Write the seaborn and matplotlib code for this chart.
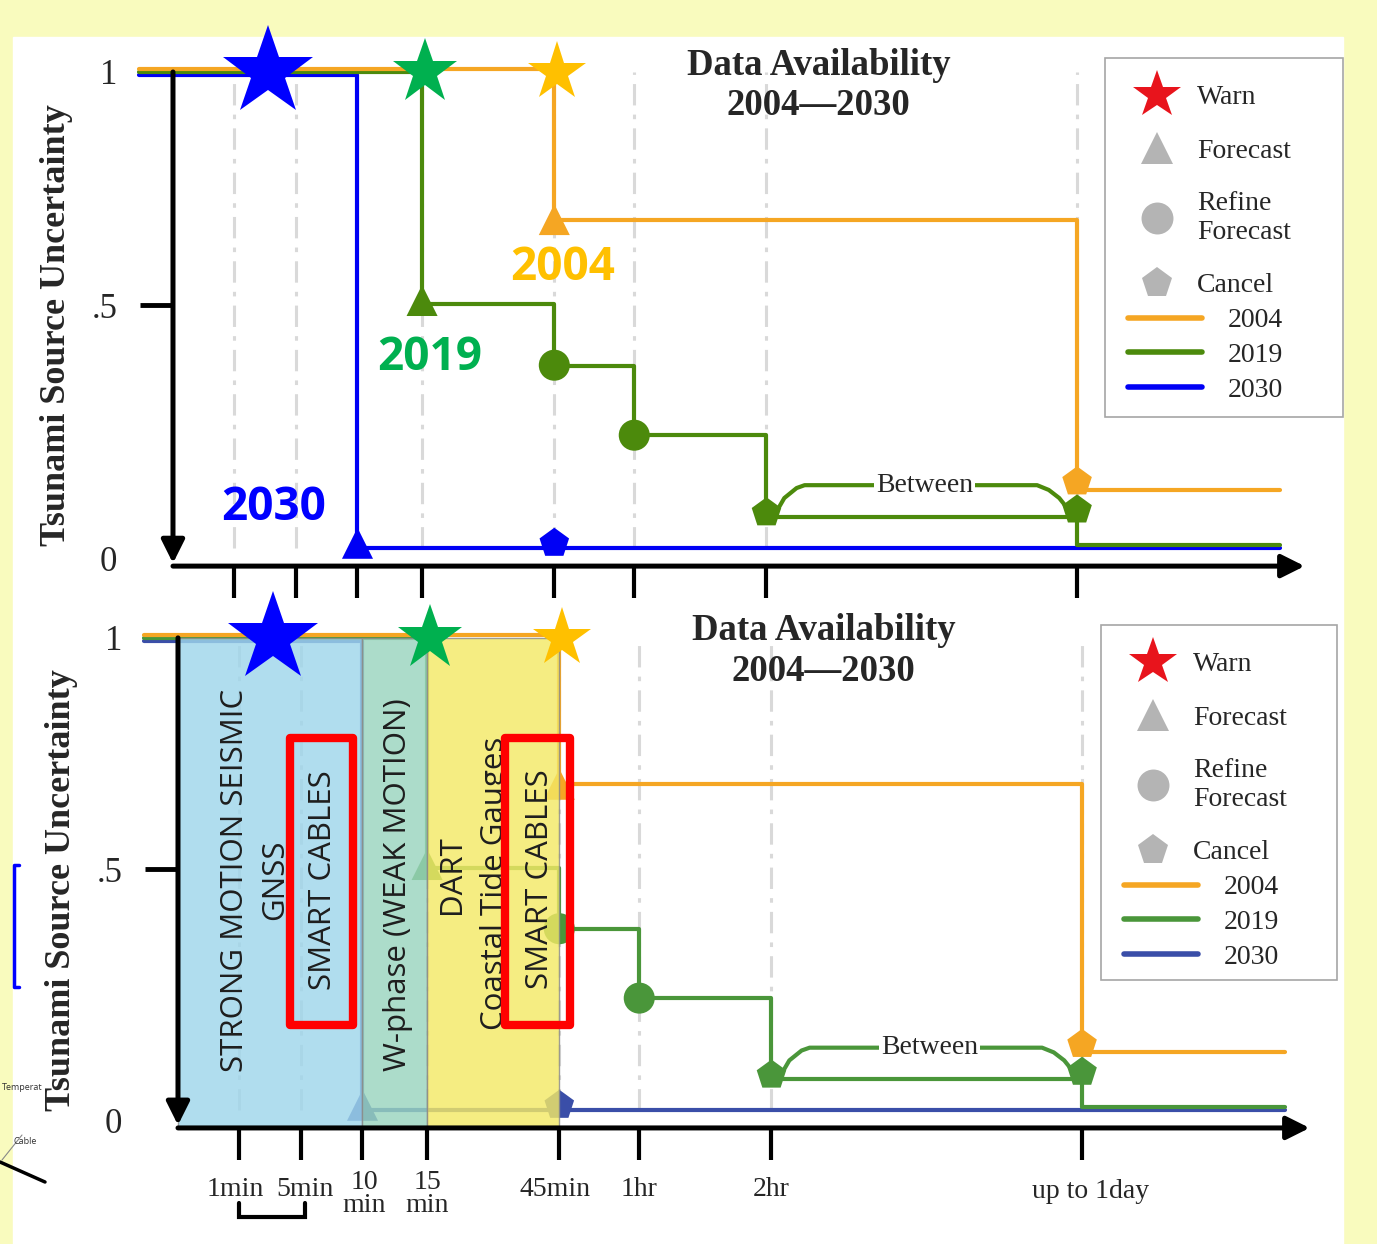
import matplotlib
matplotlib.use("Agg")
import matplotlib.pyplot as plt
import matplotlib.transforms as mtrans
from matplotlib.lines import Line2D
from matplotlib.patches import Rectangle
import seaborn as sns
import pandas as pd
import numpy as np

W, H = 1377, 1244

# x axis stops (the drawn axis is not to scale)
time_labels = ["1min", "5min", "10min", "15min", "45min", "1hr", "2hr", "1day"]
tick_text = ["1min", "5min", "10\nmin", "15\nmin", "45min", "1hr", "2hr", "up to 1day"]
slot = [1.0, 2.0, 3.0, 4.05, 6.2, 7.5, 9.65, 14.7]

years = ["2004", "2019", "2030"]

# uncertainty steps: level that starts at each time
steps_2004_t = ["start", "45min", "1day", "end"]
steps_2004_v = [1.006, 0.69, 0.122, 0.122]
steps_2019_t = ["start", "15min", "45min", "1hr", "2hr", "1day", "end"]
steps_2019_v = [1.0, 0.512, 0.383, 0.237, 0.066, 0.006, 0.006]
steps_2030_t = ["start", "10min", "end"]
steps_2030_v = [0.994, 0.0, 0.0]

# warning / forecast / cancel events
event_year = ["2004", "2004", "2019", "2019", "2019", "2019", "2019", "2030", "2030"]
event_kind = ["Forecast", "Cancel", "Forecast", "Refine", "Refine", "Cancel", "Cancel", "Forecast", "Cancel"]
event_time = ["45min", "1day", "15min", "45min", "1hr", "2hr", "1day", "10min", "45min"]
event_value = [0.69, 0.139, 0.52, 0.384, 0.237, 0.074, 0.08, 0.01, 0.01]

warn_year = ["2030", "2019", "2004"]
warn_from = ["1min", "15min", "45min"]
warn_to = ["5min", "15min", "45min"]
warn_value = [1.0, 1.0, 1.0]

# sensor windows in the lower panel
band_from = ["axis", "10min", "15min"]
band_to = ["10min", "15min", "45min"]

pos = dict(zip(time_labels, slot))
pos["start"] = -0.55
pos["end"] = 18.0
pos["axis"] = 0.0

sns.set_style("white")
plt.rcParams["font.family"] = ["Liberation Serif", "DejaVu Sans"]

fig = plt.figure(figsize=(W / 100, H / 100), dpi=100)
fig.patch.set_facecolor("#F9FBBE")
fig.patches.append(Rectangle((13 / W, 0), (1343 - 13) / W, (1244 - 37) / H,
                             transform=fig.transFigure, color="white", zorder=-5))


def px_axes(left, top, right, bottom):
    return [left / W, 1 - bottom / H, (right - left) / W, (bottom - top) / H]


def fx(px):
    return px / W


def fy(py):
    return 1 - py / H


steps = pd.concat([
    pd.DataFrame({"year": y, "x": [pos[t] for t in tt], "value": vv})
    for y, tt, vv in [("2004", steps_2004_t, steps_2004_v),
                      ("2019", steps_2019_t, steps_2019_v),
                      ("2030", steps_2030_t, steps_2030_v)]
], ignore_index=True)

events = pd.DataFrame({"year": event_year, "kind": event_kind,
                       "x": [pos[t] for t in event_time], "value": event_value})

AX_Y = -0.038


def add_legend(ax, palette, bx, by, bw, bh):
    ax.add_artist(Rectangle((fx(bx), fy(by + bh)), bw / W, bh / H, transform=fig.transFigure,
                            fc="white", ec="#A6A6A6", lw=1.2, zorder=8.5, clip_on=False))
    mk = [
        Line2D([], [], marker="*", color="#E8141C", ls="none", ms=36, mew=0),
        Line2D([], [], marker="^", color="#B4B4B4", ls="none", ms=23, mew=0),
        Line2D([], [], marker="o", color="#B4B4B4", ls="none", ms=23, mew=0),
        Line2D([], [], marker="p", color="#B4B4B4", ls="none", ms=23, mew=0),
    ]
    common = dict(loc="upper left", bbox_transform=fig.transFigure, fontsize=20,
                  frameon=False, borderpad=0, borderaxespad=0)
    leg1 = ax.legend(mk, ["Warn", "Forecast", "Refine\nForecast", "Cancel"],
                     bbox_to_anchor=(fx(bx + 26), fy(by + 27)),
                     handlelength=1.87, handletextpad=0.5, labelspacing=1.0, **common)
    leg1.set_zorder(9)
    ax.add_artist(leg1)
    ln = [Line2D([], [], color=palette[y], lw=4) for y in years]
    leg2 = ax.legend(ln, years, bbox_to_anchor=(fx(bx + 23), fy(by + 250)),
                     handlelength=2.66, handletextpad=0.94, labelspacing=0.33, **common)
    leg2.set_zorder(9)


def draw_panel(ax, palette, lower, box):
    ax.set_xlim(-0.699, 18.65)
    ax.patch.set_alpha(0)

    # dash-dot guides
    ax.vlines(slot, 0, 1.0, colors="#D9D9D9", lw=2.2,
              linestyles=[(0, (7, 3, 1.5, 3))], zorder=1)

    sns.lineplot(data=steps, x="x", y="value", hue="year", hue_order=years[::-1],
                 palette=palette, estimator=None, sort=False, drawstyle="steps-post",
                 lw=3, legend=False, ax=ax, zorder=3)

    # "Between" bracket
    a, b = pos["2hr"], pos["1day"]
    bx = [a + 0.16, a + 0.29, a + 0.49, a + 0.62, b - 0.65, b - 0.46, b - 0.29, b - 0.16]
    by = [0.076, 0.105, 0.126, 0.132, 0.132, 0.122, 0.105, 0.084]
    ax.plot(bx, by, color=palette["2019"], lw=3, zorder=3, solid_capstyle="round")
    ax.text((a + b) / 2 + 0.05, 0.132, "Between", ha="center", va="center", fontsize=20,
            bbox=dict(fc="white", ec="none", pad=1.5), zorder=3.5)

    sns.scatterplot(data=events, x="x", y="value", hue="year", style="kind",
                    markers={"Forecast": "^", "Refine": "o", "Cancel": "p"},
                    palette=palette, s=500, linewidth=0, legend=False, ax=ax, zorder=4)

    if lower:
        band_colors = ["#9FD6EB", "#9AD5BF", "#F3E966"]
        for f, t, c in zip(band_from, band_to, band_colors):
            ax.add_patch(Rectangle((pos[f], AX_Y), pos[t] - pos[f], 1.0 - AX_Y,
                                   fc=c, ec="#8A8A8A", lw=1, alpha=0.82, zorder=5))
        txt = dict(rotation=90, ha="center", va="center", fontsize=22.5,
                   family="Open Sans", color="#1E1E1E", zorder=6)
        ax.text(0.93, 0.487, "STRONG MOTION SEISMIC", **txt)
        ax.text(1.58, 0.487, "GNSS", **txt)
        ax.text(2.36, 0.487, "SMART CABLES", **txt)
        ax.text(3.58, 0.477, "W-phase (WEAK MOTION)", **txt)
        ax.text(4.45, 0.498, "DART", **txt)
        ax.text(5.15, 0.481, "Coastal Tide Gauges", **txt)
        ax.text(5.89, 0.490, "SMART CABLES", **txt)
        for x0, w in [(1.82, 1.03), (5.32, 1.05)]:
            ax.add_patch(Rectangle((x0, 0.18), w, 0.608, fill=False, ec="#FF0000",
                                   lw=6, joinstyle="round", zorder=6.5))
    else:
        yr = dict(ha="center", va="center", fontsize=33, fontweight="bold",
                  family="Open Sans", zorder=6)
        ax.text(6.34, 0.59, "2004", color="#FFC000", **yr)
        ax.text(4.18, 0.40, "2019", color="#00B050", **yr)
        ax.text(1.64, 0.085, "2030", color="#0000FF", **yr)

    # warning stars
    star_colors = {"2030": "#0000FF", "2019": "#00B04F", "2004": "#FFC000"}
    star_sizes = {"2030": 68, "2019": 49, "2004": 44}
    for y, f, t, v in zip(warn_year, warn_from, warn_to, warn_value):
        ax.plot((pos[f] + pos[t]) / 2 + 0.05, v, marker="*", ms=star_sizes[y],
                color=star_colors[y], mew=0, ls="none", zorder=7, clip_on=False)

    # axes with arrows
    arrow = dict(arrowstyle="-|>,head_length=0.7,head_width=0.35", lw=3.6, color="black",
                 shrinkA=0, shrinkB=0, mutation_scale=20)
    ax.annotate("", xy=(0, -0.032), xytext=(0, 1.0), arrowprops=arrow, zorder=8)
    ax.annotate("", xy=(18.4, AX_Y), xytext=(0, AX_Y), arrowprops=arrow, zorder=8)

    for s in ax.spines.values():
        s.set_visible(False)
    ax.spines["bottom"].set_position(("data", AX_Y))
    ax.spines["left"].set_position(("data", 0))

    ax.set_xticks(slot)
    ax.tick_params(axis="x", direction="out", length=23, width=3, color="black",
                   bottom=True, labelsize=20, pad=21)
    if lower:
        ax.set_xticklabels(tick_text)
        shifts = [(-4, 0), (4, 0), (2, -5), (0, -5), (-4, 0), (0, 0), (0, 0), (8, -2)]
        for lbl, (dx, dy) in zip(ax.get_xticklabels(), shifts):
            lbl.set_va("center")
            lbl.set_linespacing(0.9)
            lbl.set_transform(lbl.get_transform() +
                              mtrans.ScaledTranslation(dx / 100, dy / 100, fig.dpi_scale_trans))
    else:
        ax.set_xticklabels([""] * len(slot))

    ax.set_yticks([-0.022, 0.51, 1.0])
    ax.set_yticklabels(["0", ".5", "1"])
    ax.tick_params(axis="y", direction="out", length=24, width=3.5, color="black",
                   left=True, labelsize=25, pad=16)
    for i in (0, 2):
        ax.yaxis.get_major_ticks()[i].tick1line.set_visible(False)

    ax.set_xlabel("")
    ax.set_ylabel("Tsunami Source Uncertainty", fontsize=26, fontweight="bold")
    ax.yaxis.set_label_coords(-0.048, 0.474)

    ax.text(10.5, 0.972, "Data Availability\n2004\u20142030", ha="center", va="center",
            fontsize=26.5, fontweight="bold", linespacing=1.2)

    add_legend(ax, palette, *box)


ax_top = fig.add_axes(px_axes(130, 20, 1320, 600))
ax_top.set_ylim(-0.1092, 1.1092)
draw_panel(ax_top, {"2004": "#F5A623", "2019": "#4C8A0C", "2030": "#0000F5"}, False,
           (1105, 58, 238, 359))

ax_bot = fig.add_axes(px_axes(135, 585, 1325, 1165))
ax_bot.set_ylim(-0.1165, 1.112)
draw_panel(ax_bot, {"2004": "#F5A623", "2019": "#4A963A", "2030": "#3A4EA8"}, True,
           (1101, 625, 236, 355))

# bracket under 1min-5min
ax_bot.plot([pos["1min"], pos["1min"], pos["5min"] + 0.06, pos["5min"] + 0.06],
            [-0.197, -0.227, -0.227, -0.197], color="black", lw=3, clip_on=False,
            solid_joinstyle="miter")

# slide leftovers at the left margin
fig.add_artist(Line2D([fx(19), fx(14), fx(14), fx(19)],
                      [fy(865), fy(865), fy(987), fy(987)],
                      color="#0000FF", lw=2.5))
fig.text(fx(2), fy(1088), "Temperat", fontsize=6.5, family="Open Sans",
         color="#333333", va="center")
fig.text(fx(14), fy(1142), "Cable", fontsize=6.5, family="Open Sans",
         color="#333333", va="center")
fig.add_artist(Line2D([fx(2), fx(22)], [fy(1160), fy(1135)], color="#888888", lw=0.8))
fig.add_artist(Line2D([0, fx(45)], [fy(1162), fy(1182)], color="black", lw=2.5))

fig.savefig("out.png", dpi=100, facecolor=fig.get_facecolor())
